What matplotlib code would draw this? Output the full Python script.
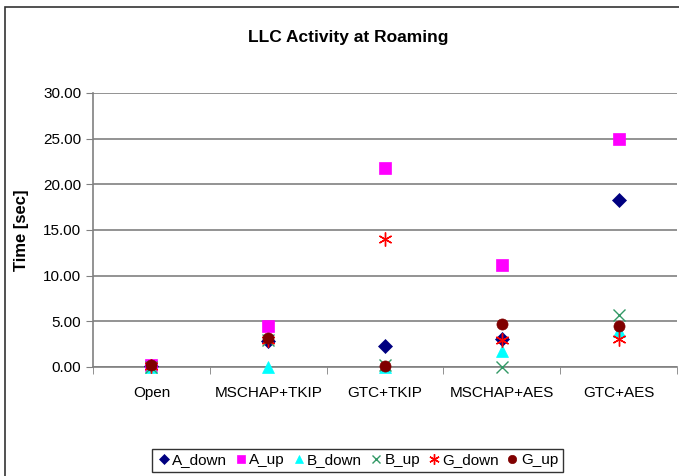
import matplotlib

matplotlib.use("Agg")

import matplotlib.pyplot as plt
from matplotlib.patches import Rectangle

categories = ["Open", "MSCHAP+TKIP", "GTC+TKIP", "MSCHAP+AES", "GTC+AES"]

a_down = [0.1, 2.8, 2.35, 3.05, 18.3]
a_up = [0.2, 4.5, 21.8, 11.2, 25.0]
b_down = [0.0, 0.0, 0.0, 1.8, 3.9]
b_up = [0.0, 3.0, 0.2, 0.0, 5.7]
g_down = [0.1, 3.0, 14.0, 2.9, 3.1]
g_up = [0.2, 3.2, 0.1, 4.65, 4.5]

series = [
    ("A_down", a_down, "D", "#000080", 7),
    ("A_up", a_up, "s", "#FF00FF", 8),
    ("B_down", b_down, "^", "#00FFFF", 8),
    ("B_up", b_up, "x", "#339966", 8),
    ("G_down", g_down, (6, 2, 0), "#FF0000", 10),
    ("G_up", g_up, "o", "#800000", 8),
]

plt.rcParams["font.family"] = ["Liberation Sans", "DejaVu Sans"]

fig = plt.figure(figsize=(6.79, 4.76), dpi=100)
ax = fig.add_axes([0.137, 0.229, 0.860, 0.576])

x = list(range(len(categories)))
for name, values, marker, color, size in series:
    thin = marker in ("x", (6, 2, 0))
    ax.plot(x, values, linestyle="none", marker=marker, color=color,
            markersize=size, markeredgewidth=1.0 if thin else 0.5,
            label=name, zorder=3, clip_on=False)

ax.set_xlim(-0.5, len(categories) - 0.5)
ax.set_ylim(0, 30)
ax.set_yticks([0, 5, 10, 15, 20, 25, 30])
ax.set_yticklabels(["%.2f" % v for v in [0, 5, 10, 15, 20, 25, 30]], fontsize=11)
ax.set_xticks(x)
ax.set_xticklabels(categories, fontsize=11)
ax.set_xticks([i - 0.5 for i in range(len(categories) + 1)], minor=True)
ax.tick_params(axis="x", which="major", length=0, pad=14)
ax.tick_params(axis="x", which="minor", length=5, color="#808080")
ax.tick_params(axis="y", length=5, color="#808080")
ax.grid(axis="y", color="#808080", linewidth=1.2)
ax.set_axisbelow(True)

for side in ["top", "right"]:
    ax.spines[side].set_visible(False)
ax.spines["left"].set_color("#808080")
ax.spines["bottom"].set_color("#808080")
ax.spines["left"].set_linewidth(1.2)
ax.spines["bottom"].set_linewidth(1.2)

ax.set_ylabel("Time [sec]", fontsize=12, fontweight="bold", labelpad=10)
fig.text(0.513, 0.922, "LLC Activity at Roaming", ha="center", va="center",
         fontsize=12.5, fontweight="bold")

# outer chart frame
fig.patches.append(Rectangle((0.0074, -0.1), 1.2, 1.085, transform=fig.transFigure,
                             fill=False, edgecolor="#333333", linewidth=1.2))

leg = fig.legend(loc="center", bbox_to_anchor=(0.526, 0.033), ncol=6,
                 fontsize=11, frameon=True, fancybox=False, edgecolor="black",
                 handletextpad=0.05, columnspacing=0.4, handlelength=1.0,
                 borderpad=0.3, markerscale=0.75)
leg.get_frame().set_linewidth(1.0)

fig.savefig("out.png", dpi=100)
